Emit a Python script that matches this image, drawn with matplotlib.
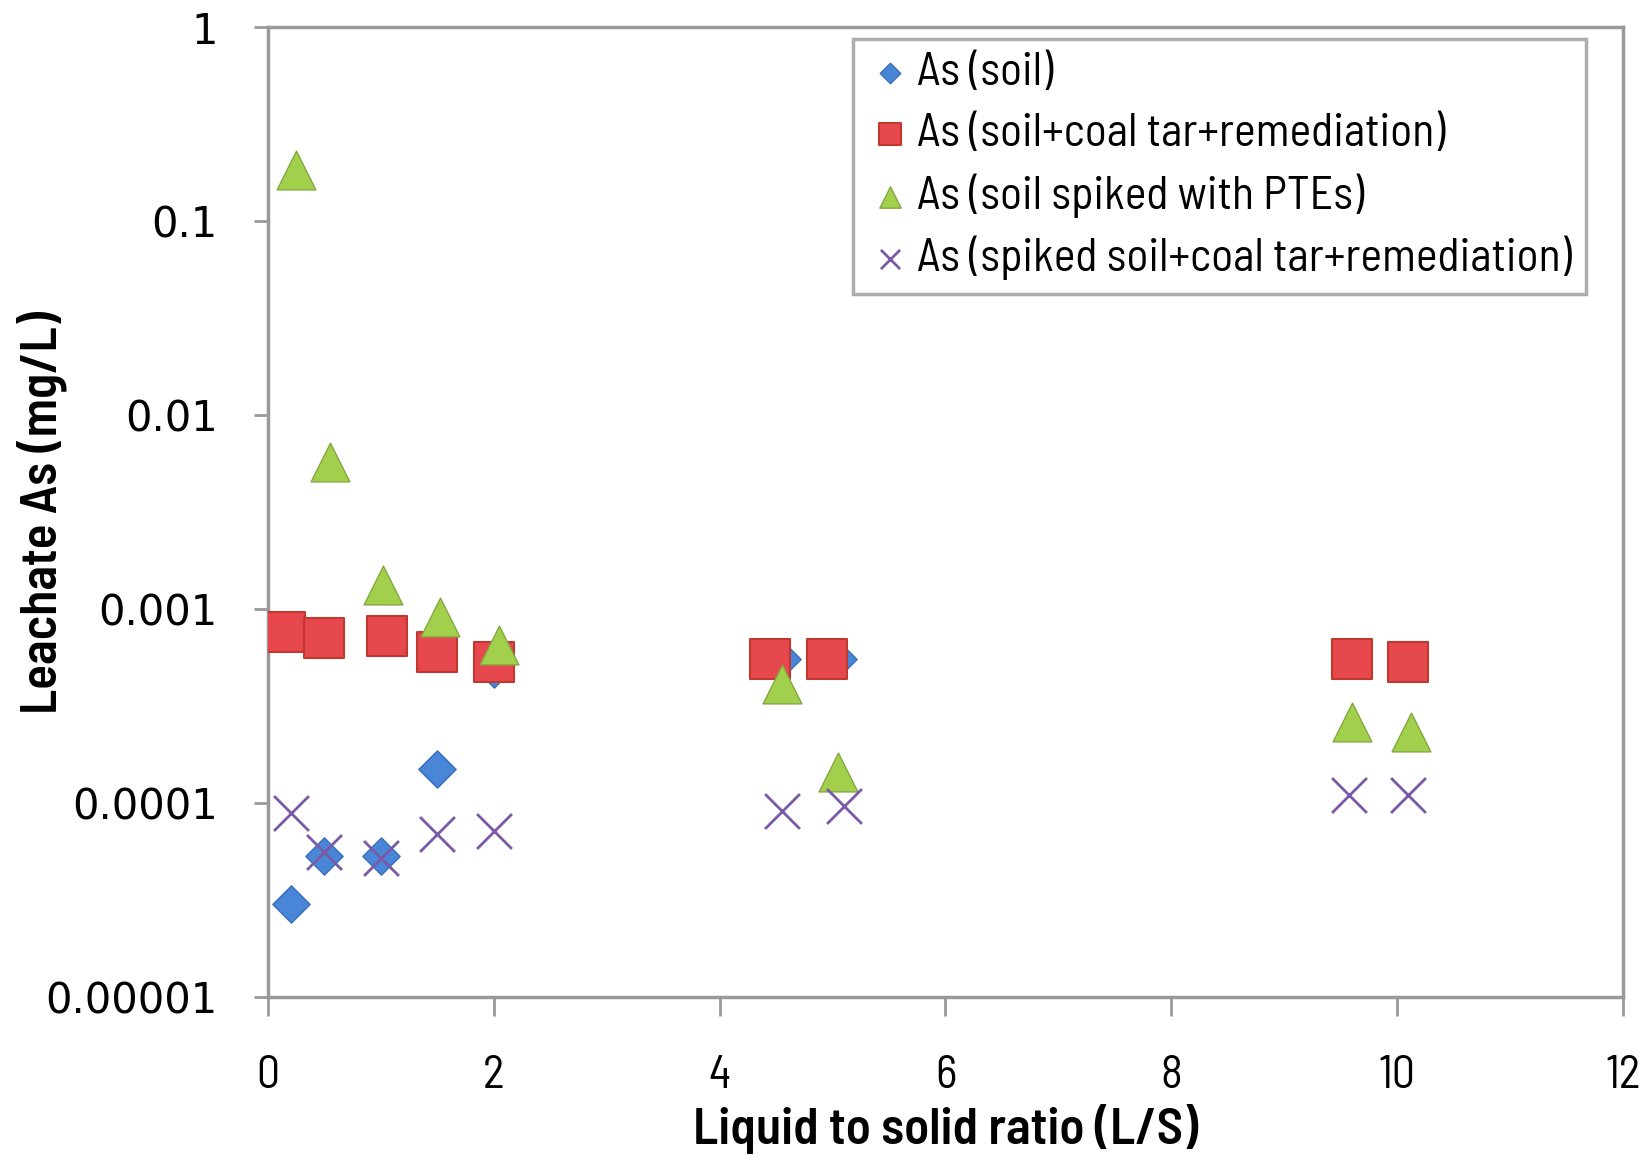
import matplotlib
matplotlib.use("Agg")
import matplotlib.pyplot as plt

# values
x_soil = [0.2, 0.5, 1.0, 1.5, 2.0, 4.55, 5.05]
y_soil = [3.0e-5, 5.3e-5, 5.3e-5, 1.5e-4, 4.9e-4, 5.5e-4, 5.5e-4]

x_tar = [0.15, 0.5, 1.05, 1.5, 2.0, 4.45, 4.95, 9.6, 10.1]
y_tar = [7.6e-4, 7.1e-4, 7.3e-4, 6.0e-4, 5.3e-4, 5.5e-4, 5.5e-4, 5.5e-4, 5.3e-4]

x_spiked = [0.25, 0.55, 1.02, 1.52, 2.05, 4.55, 5.05, 9.6, 10.12]
y_spiked = [0.184, 5.7e-3, 1.33e-3, 9.1e-4, 6.5e-4, 4.1e-4, 1.45e-4, 2.6e-4, 2.33e-4]

x_spiked_tar = [0.2, 0.5, 1.0, 1.5, 2.0, 4.55, 5.1, 9.57, 10.1]
y_spiked_tar = [8.9e-5, 5.6e-5, 5.2e-5, 6.9e-5, 7.2e-5, 9.1e-5, 9.7e-5, 1.1e-4, 1.1e-4]

labels = ["As (soil)", "As (soil+coal tar+remediation)",
          "As (soil spiked with PTEs)", "As (spiked soil+coal tar+remediation)"]
yticks = [1e-5, 1e-4, 1e-3, 1e-2, 1e-1, 1]
ytick_labels = ["0.00001", "0.0001", "0.001", "0.01", "0.1", "1"]

narrow = ["Barlow Semi Condensed", "Liberation Sans", "DejaVu Sans"]

fig = plt.figure(figsize=(16.52, 11.55), dpi=100)
ax = fig.add_axes([0.1622, 0.1368, 0.8202, 0.8398])

ax.scatter(x_soil, y_soil, marker="D", s=360, c="#4a86d8", edgecolors="#3a6fb8",
           linewidths=1, label=labels[0], zorder=3)
ax.scatter(x_tar, y_tar, marker="s", s=800, c="#e6484d", edgecolors="#c0392f",
           linewidths=1.5, label=labels[1], zorder=4)
ax.scatter(x_spiked, y_spiked, marker="^", s=780, c="#a2cf4c", edgecolors="#84a840",
           linewidths=1, label=labels[2], zorder=5)
ax.scatter(x_spiked_tar, y_spiked_tar, marker="x", s=630, c="#7a5aa6",
           linewidths=2, label=labels[3], zorder=6)

ax.set_yscale("log")
ax.set_ylim(1e-5, 1)
ax.set_xlim(0, 12)
ax.set_xticks(range(0, 13, 2))
ax.set_yticks(yticks)
ax.set_yticklabels(ytick_labels)
ax.minorticks_off()

for s in ax.spines.values():
    s.set_color("#999999")
    s.set_linewidth(2.5)

ax.tick_params(axis="y", length=10, width=2, color="#999999", pad=26,
               labelsize=30)
ax.tick_params(axis="x", length=14, width=2, color="#999999", pad=28,
               labelsize=33)
for t in ax.get_xticklabels():
    t.set_fontfamily(narrow)

ax.set_xlabel("Liquid to solid ratio (L/S)", fontsize=37, fontweight="semibold",
              family=narrow)
ax.set_ylabel("Leachate As (mg/L)", fontsize=37, fontweight="semibold",
              family=narrow)
ax.xaxis.set_label_coords(0.5, -0.11)
ax.yaxis.set_label_coords(-0.148, 0.5)

leg = ax.legend(loc="upper left", bbox_to_anchor=(0.432, 0.988),
                prop={"family": narrow, "size": 33}, frameon=True, fancybox=False,
                handletextpad=0.1, handlelength=1.0, borderpad=0.3,
                labelspacing=0.4, markerscale=0.55, borderaxespad=0)
leg.get_frame().set_edgecolor("#999999")
leg.get_frame().set_linewidth(2.5)

fig.savefig("out.png", dpi=100)
